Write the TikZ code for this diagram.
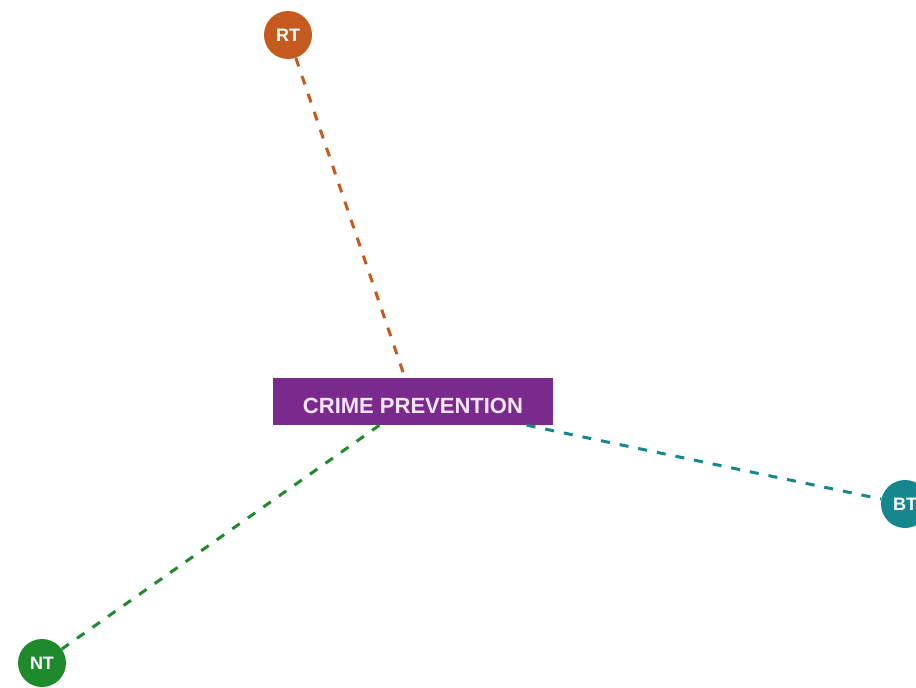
\documentclass[tikz,border=0pt]{standalone}
\usepackage{fontspec}
\setmainfont{Liberation Sans}
\definecolor{rtcol}{HTML}{C55A1E}
\definecolor{ntcol}{HTML}{1F8A2C}
\definecolor{btcol}{HTML}{16878C}
\definecolor{cpcol}{HTML}{7A2A8C}
\definecolor{txtcol}{HTML}{F4E6F6}
\begin{document}
\begin{tikzpicture}[x=1pt,y=-1pt,
  hub/.style={rectangle, fill=cpcol, minimum width=280pt, minimum height=47pt, inner sep=0pt,
    text height=30pt, text depth=7pt,
    text=txtcol, font=\bfseries\fontsize{22}{24}\selectfont},
  leaf/.style={circle, minimum size=48pt, inner sep=0pt, text=white,
    font=\bfseries\fontsize{18}{20}\selectfont},
  link/.style={line width=3pt, dash pattern=on 9pt off 10pt}]
\useasboundingbox (0,0) rectangle (916,688);
\clip (0,0) rectangle (916,688);
\fill[white] (0,0) rectangle (916,688);
\node[hub] (cp) at (413,401.5) {CRIME PREVENTION};
\node[leaf, fill=rtcol] (rt) at (288,35) {RT};
\node[leaf, fill=btcol] (bt) at (905,504) {BT};
\node[leaf, fill=ntcol] (nt) at (42,663) {NT};
\draw[link, draw=rtcol] (rt) -- (cp);
\draw[link, draw=btcol] (cp) -- (bt);
\draw[link, draw=ntcol] (cp) -- (nt);
\end{tikzpicture}
\end{document}
